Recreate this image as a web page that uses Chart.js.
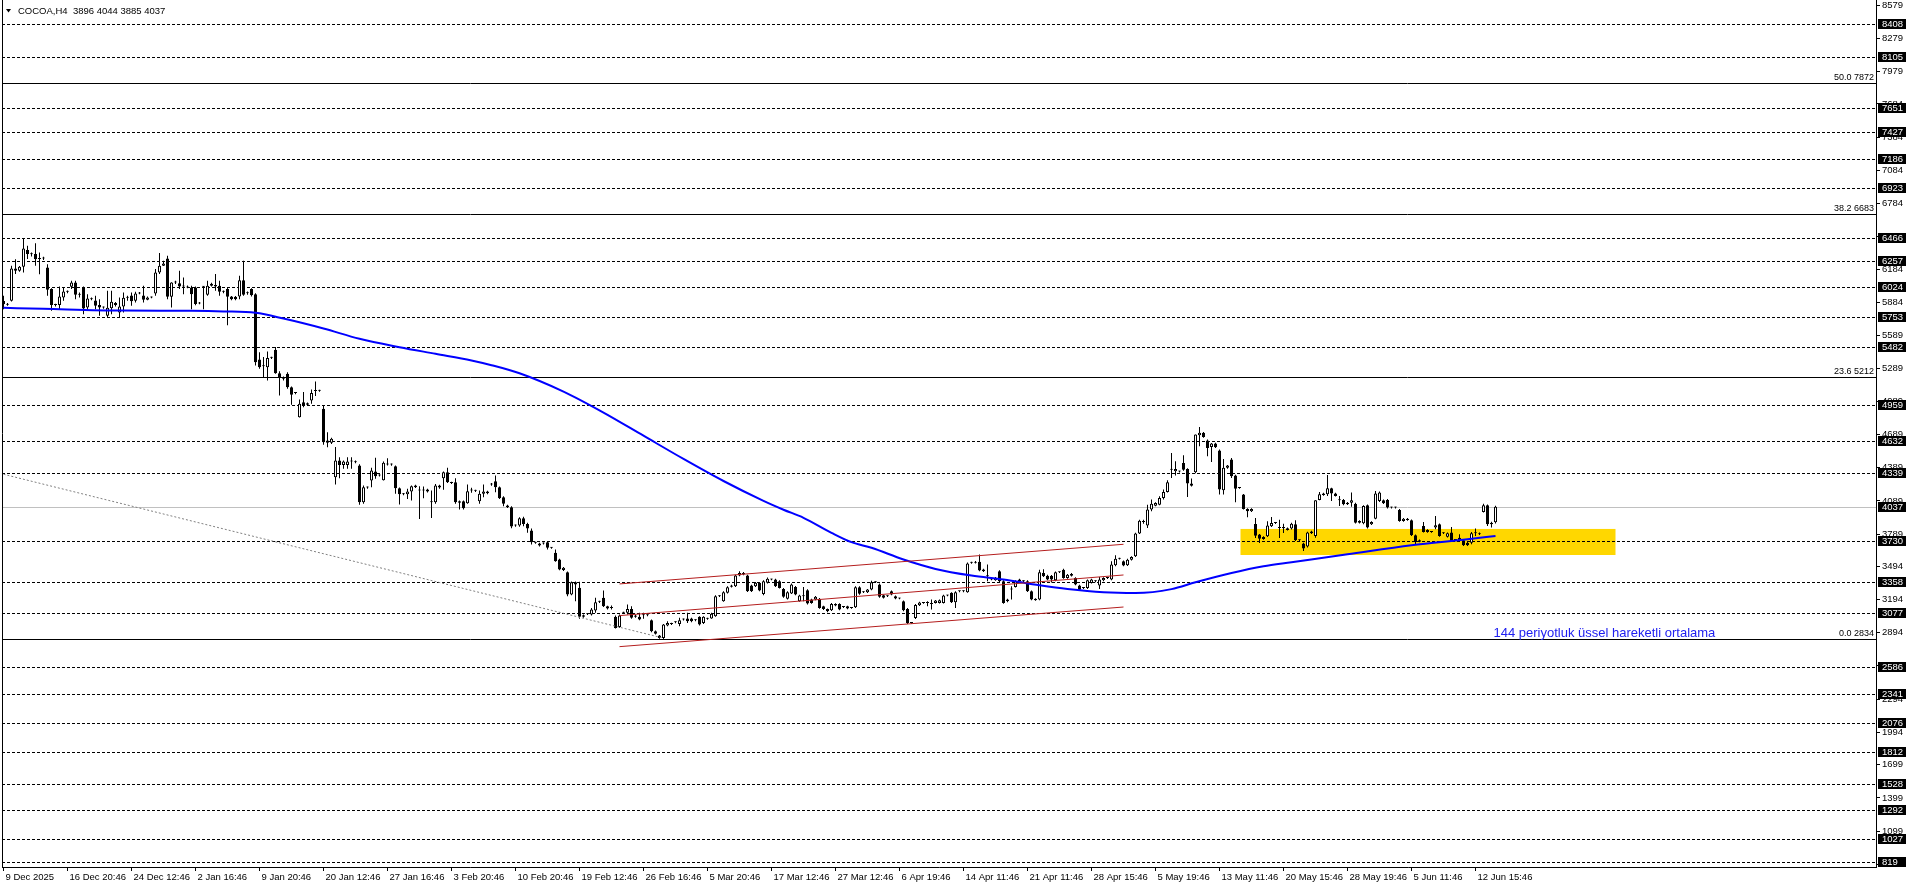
<!DOCTYPE html>
<html lang="tr">
<head>
<meta charset="UTF-8">
<title>COCOA,H4</title>
<script src="https://cdn.jsdelivr.net/npm/chart.js"></script>
<style>
    body { margin: 0; background: #fff; }
    canvas { display: block; }
</style>
</head>
<body>
<canvas id="chart" width="1916" height="888"></canvas>
<script>
// H4 candles (bar 0 = 9 Dec 2025)
const open = [
5900,5865,5901,6194,6173,6209,6360,6324,6324,6280,
6284,6203,6007,5862,5862,5931,5985,6028,6067,5955,
6016,5840,5920,5904,5862,5840,5765,5834,5880,5795,
5850,5928,5949,5901,5967,5949,5910,5931,5967,6158,
6218,6284,5937,6067,6061,6031,6031,6022,6022,5877,
6028,5955,6037,6043,6037,5982,6007,5940,5937,5940,
6088,5970,6007,5961,5370,5310,5300,5385,5457,5246,
5210,5240,5119,5065,4847,4983,4959,4998,5083,5086,
4923,4636,4615,4304,4455,4415,4415,4446,4446,4409,
4077,4210,4274,4355,4319,4277,4418,4418,4403,4204,
4150,4150,4174,4213,4183,4183,4174,4077,4077,4228,
4295,4349,4252,4258,4086,4086,4068,4183,4183,4086,
4153,4174,4237,4267,4213,4123,4047,4032,3866,3866,
3932,3880,3821,3709,3703,3703,3715,3664,3619,3558,
3462,3443,3241,3353,3302,3054,3063,3060,3096,3175,
3211,3135,3120,3039,2948,3075,3075,3111,3051,3039,
3054,3054,3009,2909,2870,2848,2960,2975,2990,2975,
3015,3024,3024,3009,3039,2984,3021,3024,3045,3226,
3181,3256,3311,3317,3413,3437,3413,3323,3317,3347,
3245,3347,3377,3377,3362,3292,3202,3250,3310,3180,
3226,3280,3196,3196,3202,3135,3111,3099,3141,3156,
3129,3135,3120,3126,3307,3262,3262,3286,3353,3332,
3235,3226,3271,3226,3205,3180,3111,2984,3029,3144,
3165,3165,3156,3165,3165,3165,3232,3256,3172,3271,
3271,3262,3528,3528,3537,3452,3407,3377,3371,3452,
3362,3180,3286,3310,3377,3362,3362,3271,3202,3196,
3436,3412,3412,3370,3442,3466,3391,3412,3391,3322,
3300,3300,3346,3361,3322,3370,3391,3376,3506,3566,
3542,3506,3557,3587,3793,3898,3865,4010,4046,4055,
4116,4170,4372,4357,4354,4433,4378,4246,4348,4683,
4705,4635,4578,4608,4545,4185,4388,4463,4318,4206,
4146,4016,3995,3880,3784,3762,3768,3859,3889,3853,
3853,3841,3838,3877,3732,3702,3675,3795,3771,4098,
4155,4149,4203,4155,4095,4098,4073,4073,4064,3907,
3886,4049,3877,3928,4088,4095,4098,4028,4028,4007,
3907,3928,3913,3777,3732,3862,3826,3808,3847,3877,
3796,3765,3802,3735,3756,3732,3711,3711,3796,3796,
3989,4049,3877,3896
];
const high = [
5946,5880,6218,6278,6215,6466,6399,6339,6423,6339,
6300,6233,6015,5875,6031,6022,5995,6082,6082,5977,
6031,5961,5930,5946,5916,5850,5992,5992,5890,5931,
5976,5946,5976,5982,5980,6037,5940,5940,6188,6333,
6263,6309,6070,6082,6173,6112,6040,6037,6030,5890,
6035,6082,6065,6143,6082,5995,6022,5945,5945,6127,
6263,5985,6015,5970,5436,5391,5442,5395,5482,5264,
5215,5255,5125,5075,5007,5074,4980,5098,5170,5095,
4953,4711,4660,4576,4485,4455,4485,4485,4455,4420,
4228,4220,4388,4479,4330,4446,4476,4428,4410,4210,
4160,4198,4228,4235,4222,4219,4200,4183,4243,4235,
4355,4388,4262,4295,4092,4092,4237,4207,4190,4183,
4237,4180,4250,4319,4220,4130,4055,4040,3875,3940,
3945,3890,3840,3720,3710,3712,3724,3672,3649,3565,
3490,3450,3358,3360,3356,3060,3072,3120,3211,3185,
3277,3140,3141,3051,3060,3085,3150,3135,3058,3075,
3075,3062,3015,2915,2875,2975,2999,2985,3000,3030,
3025,3075,3030,3018,3045,3045,3030,3075,3235,3235,
3270,3315,3330,3420,3452,3445,3420,3330,3355,3355,
3370,3395,3385,3385,3370,3300,3270,3340,3318,3240,
3310,3288,3202,3228,3210,3140,3115,3165,3162,3162,
3138,3140,3128,3315,3315,3270,3292,3365,3362,3340,
3240,3235,3278,3232,3212,3186,3118,2992,3155,3175,
3172,3180,3196,3192,3196,3240,3240,3262,3270,3278,
3280,3530,3537,3545,3603,3475,3513,3385,3400,3460,
3370,3202,3316,3370,3385,3370,3370,3278,3208,3466,
3470,3420,3418,3450,3450,3475,3428,3435,3398,3330,
3310,3378,3385,3370,3400,3398,3400,3542,3596,3575,
3550,3565,3588,3800,3919,3919,4055,4101,4077,4131,
4191,4276,4523,4448,4362,4502,4385,4291,4690,4759,
4712,4644,4614,4615,4554,4469,4415,4478,4325,4215,
4152,4022,4022,3935,3790,3768,3904,3944,3896,3919,
3883,3848,3890,3913,3740,3710,3810,3818,4095,4170,
4162,4324,4209,4162,4134,4105,4080,4164,4072,3913,
4050,4056,3905,4179,4175,4102,4105,4036,4036,4015,
3935,3935,3920,3784,3740,3898,3833,3816,3953,3884,
3804,3803,3853,3743,3786,3740,3718,3808,3838,3803,
4064,4056,3899,4044
];
const low = [
5825,5856,5895,6143,6165,6158,6280,6303,6218,6142,
6270,5946,5810,5850,5825,5901,5970,6007,5916,5931,
5780,5810,5905,5825,5765,5830,5750,5780,5850,5750,
5795,5901,5856,5886,5960,5886,5905,5925,5946,6143,
6215,5916,5840,6052,6007,5961,6015,5825,5860,5870,
5825,5946,6030,5992,5946,5970,5680,5905,5905,5916,
5946,5955,5940,5315,5285,5201,5180,5375,5240,5044,
5180,5104,4959,5055,4845,4938,4950,4968,5038,5078,
4597,4575,4605,4237,4295,4380,4380,4380,4430,4053,
4062,4200,4213,4289,4310,4274,4410,4408,4153,4056,
4140,4107,4092,4205,3926,4113,4165,3935,4062,4200,
4189,4252,4242,4062,4011,4011,4062,4162,4170,4062,
4123,4150,4225,4168,4107,4041,4025,3842,3855,3855,
3860,3800,3694,3700,3675,3695,3649,3655,3537,3460,
3455,3226,3235,3181,3021,3030,3055,3051,3075,3165,
3129,3105,3105,2933,2940,3065,3060,3021,3030,3009,
3021,3045,2900,2878,2840,2834,2954,2965,2980,2954,
3005,2984,2990,3000,2960,2975,3012,3021,3040,3218,
3175,3250,3305,3310,3407,3415,3265,3265,3310,3270,
3235,3340,3370,3310,3295,3212,3195,3245,3235,3175,
3180,3150,3158,3190,3112,3102,3081,3092,3135,3098,
3120,3108,3112,3120,3240,3255,3255,3280,3345,3212,
3205,3218,3235,3198,3198,3090,2975,2976,3020,3138,
3158,3135,3105,3160,3160,3160,3225,3165,3120,3262,
3262,3256,3520,3522,3452,3445,3362,3370,3365,3355,
3158,3172,3196,3305,3355,3355,3265,3190,3184,3190,
3400,3370,3350,3362,3435,3385,3385,3405,3325,3278,
3290,3292,3340,3352,3290,3362,3382,3370,3497,3558,
3497,3500,3550,3580,3790,3883,3844,3995,4040,4050,
4101,4165,4297,4318,4345,4363,4125,4220,4340,4584,
4660,4493,4442,4568,4146,4146,4380,4297,4076,4198,
4010,3940,3988,3753,3708,3738,3762,3853,3880,3753,
3799,3820,3830,3726,3724,3636,3668,3788,3756,4094,
4136,4134,4089,4128,4043,4050,4052,4037,3885,3885,
3878,3838,3870,3922,4080,4060,4020,4020,4020,3900,
3900,3910,3770,3696,3714,3802,3800,3800,3832,3764,
3788,3758,3720,3727,3717,3680,3680,3696,3771,3780,
3983,3862,3847,3885
];
const close = [
5870,5868,6194,6173,6209,6375,6324,6322,6278,6284,
6287,6001,5862,5865,5940,5985,5982,6067,5955,5955,
5831,5922,5916,5856,5840,5840,5837,5892,5862,5850,
5928,5928,5898,5967,5970,5910,5931,5931,6158,6218,
6239,5937,6067,6067,6031,6031,6022,5961,5871,5877,
6028,6037,6055,6031,5982,5982,5937,5916,5916,6088,
5955,5970,5952,5345,5300,5309,5382,5385,5246,5210,
5195,5119,5050,5065,4968,4953,4974,5065,5083,5086,
4621,4615,4651,4455,4415,4446,4446,4446,4440,4077,
4213,4210,4364,4313,4319,4434,4418,4418,4204,4150,
4150,4174,4222,4228,4183,4183,4192,4077,4228,4210,
4349,4258,4252,4077,4071,4023,4177,4183,4180,4153,
4174,4159,4237,4213,4113,4062,4032,3857,3866,3932,
3880,3840,3715,3709,3685,3703,3664,3664,3543,3468,
3483,3241,3353,3332,3039,3039,3063,3105,3172,3175,
3135,3114,3120,2939,3051,3075,3111,3030,3039,3015,
3054,3054,2909,2885,2848,2969,2984,2975,2990,3009,
3015,2999,2999,3009,2969,3039,3021,3066,3226,3226,
3262,3307,3323,3413,3437,3422,3271,3271,3347,3277,
3362,3383,3377,3316,3301,3220,3262,3331,3241,3232,
3226,3159,3165,3220,3120,3111,3090,3156,3156,3105,
3129,3114,3120,3307,3247,3262,3286,3353,3353,3220,
3211,3226,3241,3205,3205,3099,2984,2984,3147,3168,
3165,3165,3156,3186,3190,3232,3232,3172,3262,3271,
3271,3522,3528,3537,3458,3467,3407,3377,3392,3362,
3165,3196,3286,3362,3362,3362,3271,3196,3190,3442,
3406,3376,3376,3442,3442,3391,3421,3427,3331,3285,
3300,3370,3376,3361,3376,3391,3391,3512,3566,3566,
3503,3557,3581,3793,3910,3898,4010,4064,4070,4116,
4170,4258,4372,4378,4354,4372,4246,4227,4690,4705,
4668,4569,4608,4575,4191,4388,4409,4312,4200,4206,
4016,3995,4016,3774,3747,3744,3865,3889,3889,3844,
3841,3826,3883,3732,3732,3657,3802,3811,4095,4149,
4143,4203,4155,4134,4095,4058,4058,4095,3892,3892,
4043,3847,3898,4155,4164,4067,4028,4028,4028,3907,
3928,3916,3777,3717,3720,3808,3808,3808,3868,3771,
3796,3796,3726,3735,3726,3687,3687,3796,3796,3787,
4049,3877,3892,4037
];

// 144 period EMA, read at a few bars along the blue curve
const maBars = [0, 10, 30, 47, 55, 63, 70, 80, 89, 99, 108, 117, 122, 129, 140, 150, 160, 170, 180, 190, 195,
    200, 207, 212, 217, 225, 233, 242, 250, 259, 266, 275, 283, 292, 298, 307, 315, 322, 336, 352, 366, 373];
const maValues = [5837, 5828, 5812, 5810, 5805, 5792, 5740, 5650, 5557, 5481, 5421, 5361, 5318, 5245, 5079, 4889, 4679, 4469, 4269, 4089, 4009,
    3936, 3800, 3715, 3664, 3558, 3473, 3413, 3377, 3325, 3291, 3262, 3255, 3290, 3352, 3436, 3497, 3533, 3605, 3687, 3741, 3771];

// time axis
const timeBars = [0, 16, 32, 48, 64, 80, 96, 112, 128, 144, 160, 176, 192, 208, 224, 240, 256, 272, 288, 304, 320, 336, 352, 368];
const timeLabels = ['9 Dec 2025', '16 Dec 20:46', '24 Dec 12:46', '2 Jan 16:46', '9 Jan 20:46', '20 Jan 12:46', '27 Jan 16:46',
    '3 Feb 20:46', '10 Feb 20:46', '19 Feb 12:46', '26 Feb 16:46', '5 Mar 20:46', '17 Mar 12:46', '27 Mar 12:46', '6 Apr 19:46',
    '14 Apr 11:46', '21 Apr 11:46', '28 Apr 15:46', '5 May 19:46', '13 May 11:46', '20 May 15:46', '28 May 19:46', '5 Jun 11:46', '12 Jun 15:46'];

// price axis
const priceTicks = [8579, 8279, 7979, 7684, 7384, 7084, 6784, 6484, 6184, 5884, 5589, 5289, 4989, 4689, 4389, 4089,
    3789, 3494, 3194, 2894, 2594, 2294, 1994, 1699, 1399, 1099, 799];
const levels = [8408, 8105, 7651, 7427, 7186, 6923, 6466, 6257, 6024, 5753, 5482, 4959, 4632, 4339, 3730, 3358, 3077,
    2586, 2341, 2076, 1812, 1528, 1292, 1027, 819];
const fibLevels = [7872, 6683, 5212, 2834];
const fibNames = ['50.0', '38.2', '23.6', '0.0'];
const bidPrice = 4037;
const header = 'COCOA,H4  3896 4044 3885 4037';

// drawn objects
const channelBars = [154, 280];
const channelUpper = [3337, 3696];
const channelMiddle = [3050, 3418];
const channelLower = [2769, 3128];
const trendBars = [0, 165];
const trendPrices = [4330, 2846];
const zoneBars = [309.25, 403];
const zonePrices = [3599, 3835];
const noteText = '144 periyotluk üssel hareketli ortalama';
const noteBar = 372.5;
const notePrice = 2893;

const uiFont = '"Liberation Sans", Arial, sans-serif';

const idx = open.map((_, i) => i);
const wicks = idx.map(i => ({ x: i, y: [low[i], high[i]] }));
const bodies = idx.map(i => ({ x: i, y: [Math.min(open[i], close[i]), Math.max(open[i], close[i])] }));
const bodyFill = idx.map(i => close[i] > open[i] ? '#ffffff' : '#000000');
const pts = (bars, vals) => bars.map((b, i) => ({ x: b, y: vals[i] }));

const overlay = {
    id: 'overlay',
    beforeDatasetsDraw(chart) {
        const { ctx, chartArea: a, scales: { x, y } } = chart;
        ctx.save();
        ctx.beginPath();
        ctx.rect(a.left, a.top, a.right - a.left, a.bottom - a.top);
        ctx.clip();

        // yellow zone
        const zx1 = x.getPixelForValue(zoneBars[0]);
        const zx2 = x.getPixelForValue(zoneBars[1]);
        const zy1 = y.getPixelForValue(zonePrices[1]);
        const zy2 = y.getPixelForValue(zonePrices[0]);
        ctx.fillStyle = '#ffd700';
        ctx.fillRect(zx1, zy1, zx2 - zx1, zy2 - zy1);

        const hline = v => {
            const py = Math.round(y.getPixelForValue(v)) + 0.5;
            ctx.beginPath();
            ctx.moveTo(a.left, py);
            ctx.lineTo(a.right, py);
            ctx.stroke();
        };
        ctx.lineWidth = 1;
        ctx.strokeStyle = '#000';
        ctx.setLineDash([3, 2]);
        levels.forEach(hline);
        ctx.setLineDash([]);
        fibLevels.forEach(hline);
        ctx.strokeStyle = '#c0c0c0';
        hline(bidPrice);
        ctx.restore();
    },
    afterDraw(chart) {
        const { ctx, chartArea: a, scales: { x, y } } = chart;
        ctx.save();
        // left frame line
        ctx.strokeStyle = '#000';
        ctx.lineWidth = 1;
        ctx.beginPath();
        ctx.moveTo(a.left + 0.5, 0);
        ctx.lineTo(a.left + 0.5, a.bottom);
        ctx.stroke();

        // fibo labels
        ctx.font = '9px ' + uiFont;
        ctx.fillStyle = '#000';
        ctx.textAlign = 'right';
        ctx.textBaseline = 'bottom';
        fibLevels.forEach((v, i) => {
            const py = Math.round(y.getPixelForValue(v));
            ctx.fillText(fibNames[i] + ' ' + v, a.right - 2, py - 1);
        });

        // price boxes on the axis
        ctx.font = '9.5px ' + uiFont;
        ctx.textAlign = 'left';
        ctx.textBaseline = 'middle';
        levels.concat([bidPrice]).forEach(v => {
            const py = Math.round(y.getPixelForValue(v));
            ctx.fillStyle = '#000';
            ctx.fillRect(a.right + 2, py - 5, 28, 10);
            ctx.fillStyle = '#fff';
            ctx.fillText(String(v), a.right + 6, py + 0.5);
        });

        // header
        ctx.fillStyle = '#000';
        ctx.beginPath();
        ctx.moveTo(6, 9);
        ctx.lineTo(11, 9);
        ctx.lineTo(8.5, 12.5);
        ctx.closePath();
        ctx.fill();
        ctx.font = '9.5px ' + uiFont;
        ctx.fillText(header, 18, 11);

        // note for the moving average
        ctx.fillStyle = '#2020f0';
        ctx.font = '13px ' + uiFont;
        ctx.fillText(noteText, x.getPixelForValue(noteBar), y.getPixelForValue(notePrice));
        ctx.restore();
    }
};

Chart.defaults.font.family = uiFont;

new Chart(document.getElementById('chart'), {
    type: 'bar',
    data: {
        datasets: [
            {
                type: 'line', label: 'upper', data: pts(channelBars, channelUpper),
                borderColor: '#b41e1e', borderWidth: 1, pointRadius: 0, order: 0
            },
            {
                type: 'line', label: 'middle', data: pts(channelBars, channelMiddle),
                borderColor: '#b41e1e', borderWidth: 1, pointRadius: 0, order: 0
            },
            {
                type: 'line', label: 'lower', data: pts(channelBars, channelLower),
                borderColor: '#b41e1e', borderWidth: 1, pointRadius: 0, order: 0
            },
            {
                type: 'line', label: 'trend', data: pts(trendBars, trendPrices),
                borderColor: '#808080', borderWidth: 1, borderDash: [2, 2], pointRadius: 0, order: 0
            },
            {
                type: 'line', label: 'EMA 144', data: pts(maBars, maValues),
                borderColor: '#0000ff', borderWidth: 2, pointRadius: 0,
                cubicInterpolationMode: 'monotone', order: 1
            },
            {
                label: 'body', data: bodies,
                backgroundColor: bodyFill, borderColor: '#000', borderWidth: 1, borderSkipped: false,
                barThickness: 3, maxBarThickness: 3, minBarLength: 1, grouped: false,
                inflateAmount: 0, order: 2
            },
            {
                label: 'wick', data: wicks,
                backgroundColor: '#000', borderWidth: 0,
                barThickness: 1, maxBarThickness: 1, grouped: false,
                inflateAmount: 0, order: 3
            }
        ]
    },
    options: {
        responsive: false,
        animation: false,
        layout: { padding: { left: 2, top: 0, right: 0, bottom: 0 } },
        plugins: { legend: { display: false }, tooltip: { enabled: false } },
        scales: {
            x: {
                type: 'linear',
                min: -0.375,
                max: 468.125,
                offset: false,
                grid: { offset: false, drawOnChartArea: false, drawTicks: true, tickLength: 4, color: '#000' },
                border: { display: true, color: '#000' },
                ticks: {
                    autoSkip: false, maxRotation: 0, align: 'start', padding: 1, labelOffset: 2,
                    color: '#000', font: { size: 9.5 },
                    callback: (v, i) => timeLabels[i]
                },
                afterBuildTicks: s => { s.ticks = timeBars.map(v => ({ value: v })); },
                afterFit: s => { s.height = 21; s.paddingLeft = 0; s.paddingRight = 0; }
            },
            y: {
                position: 'right',
                min: 773.5,
                max: 8625,
                grid: { drawOnChartArea: false, drawTicks: true, tickLength: 4, color: '#000' },
                border: { display: true, color: '#000' },
                ticks: {
                    autoSkip: false, padding: 2, color: '#000', font: { size: 9.5 },
                    callback: v => String(v)
                },
                afterBuildTicks: s => { s.ticks = priceTicks.map(v => ({ value: v })); },
                afterFit: s => { s.width = 40; s.paddingTop = 0; s.paddingBottom = 0; }
            }
        }
    },
    plugins: [overlay]
});
</script>
</body>
</html>
